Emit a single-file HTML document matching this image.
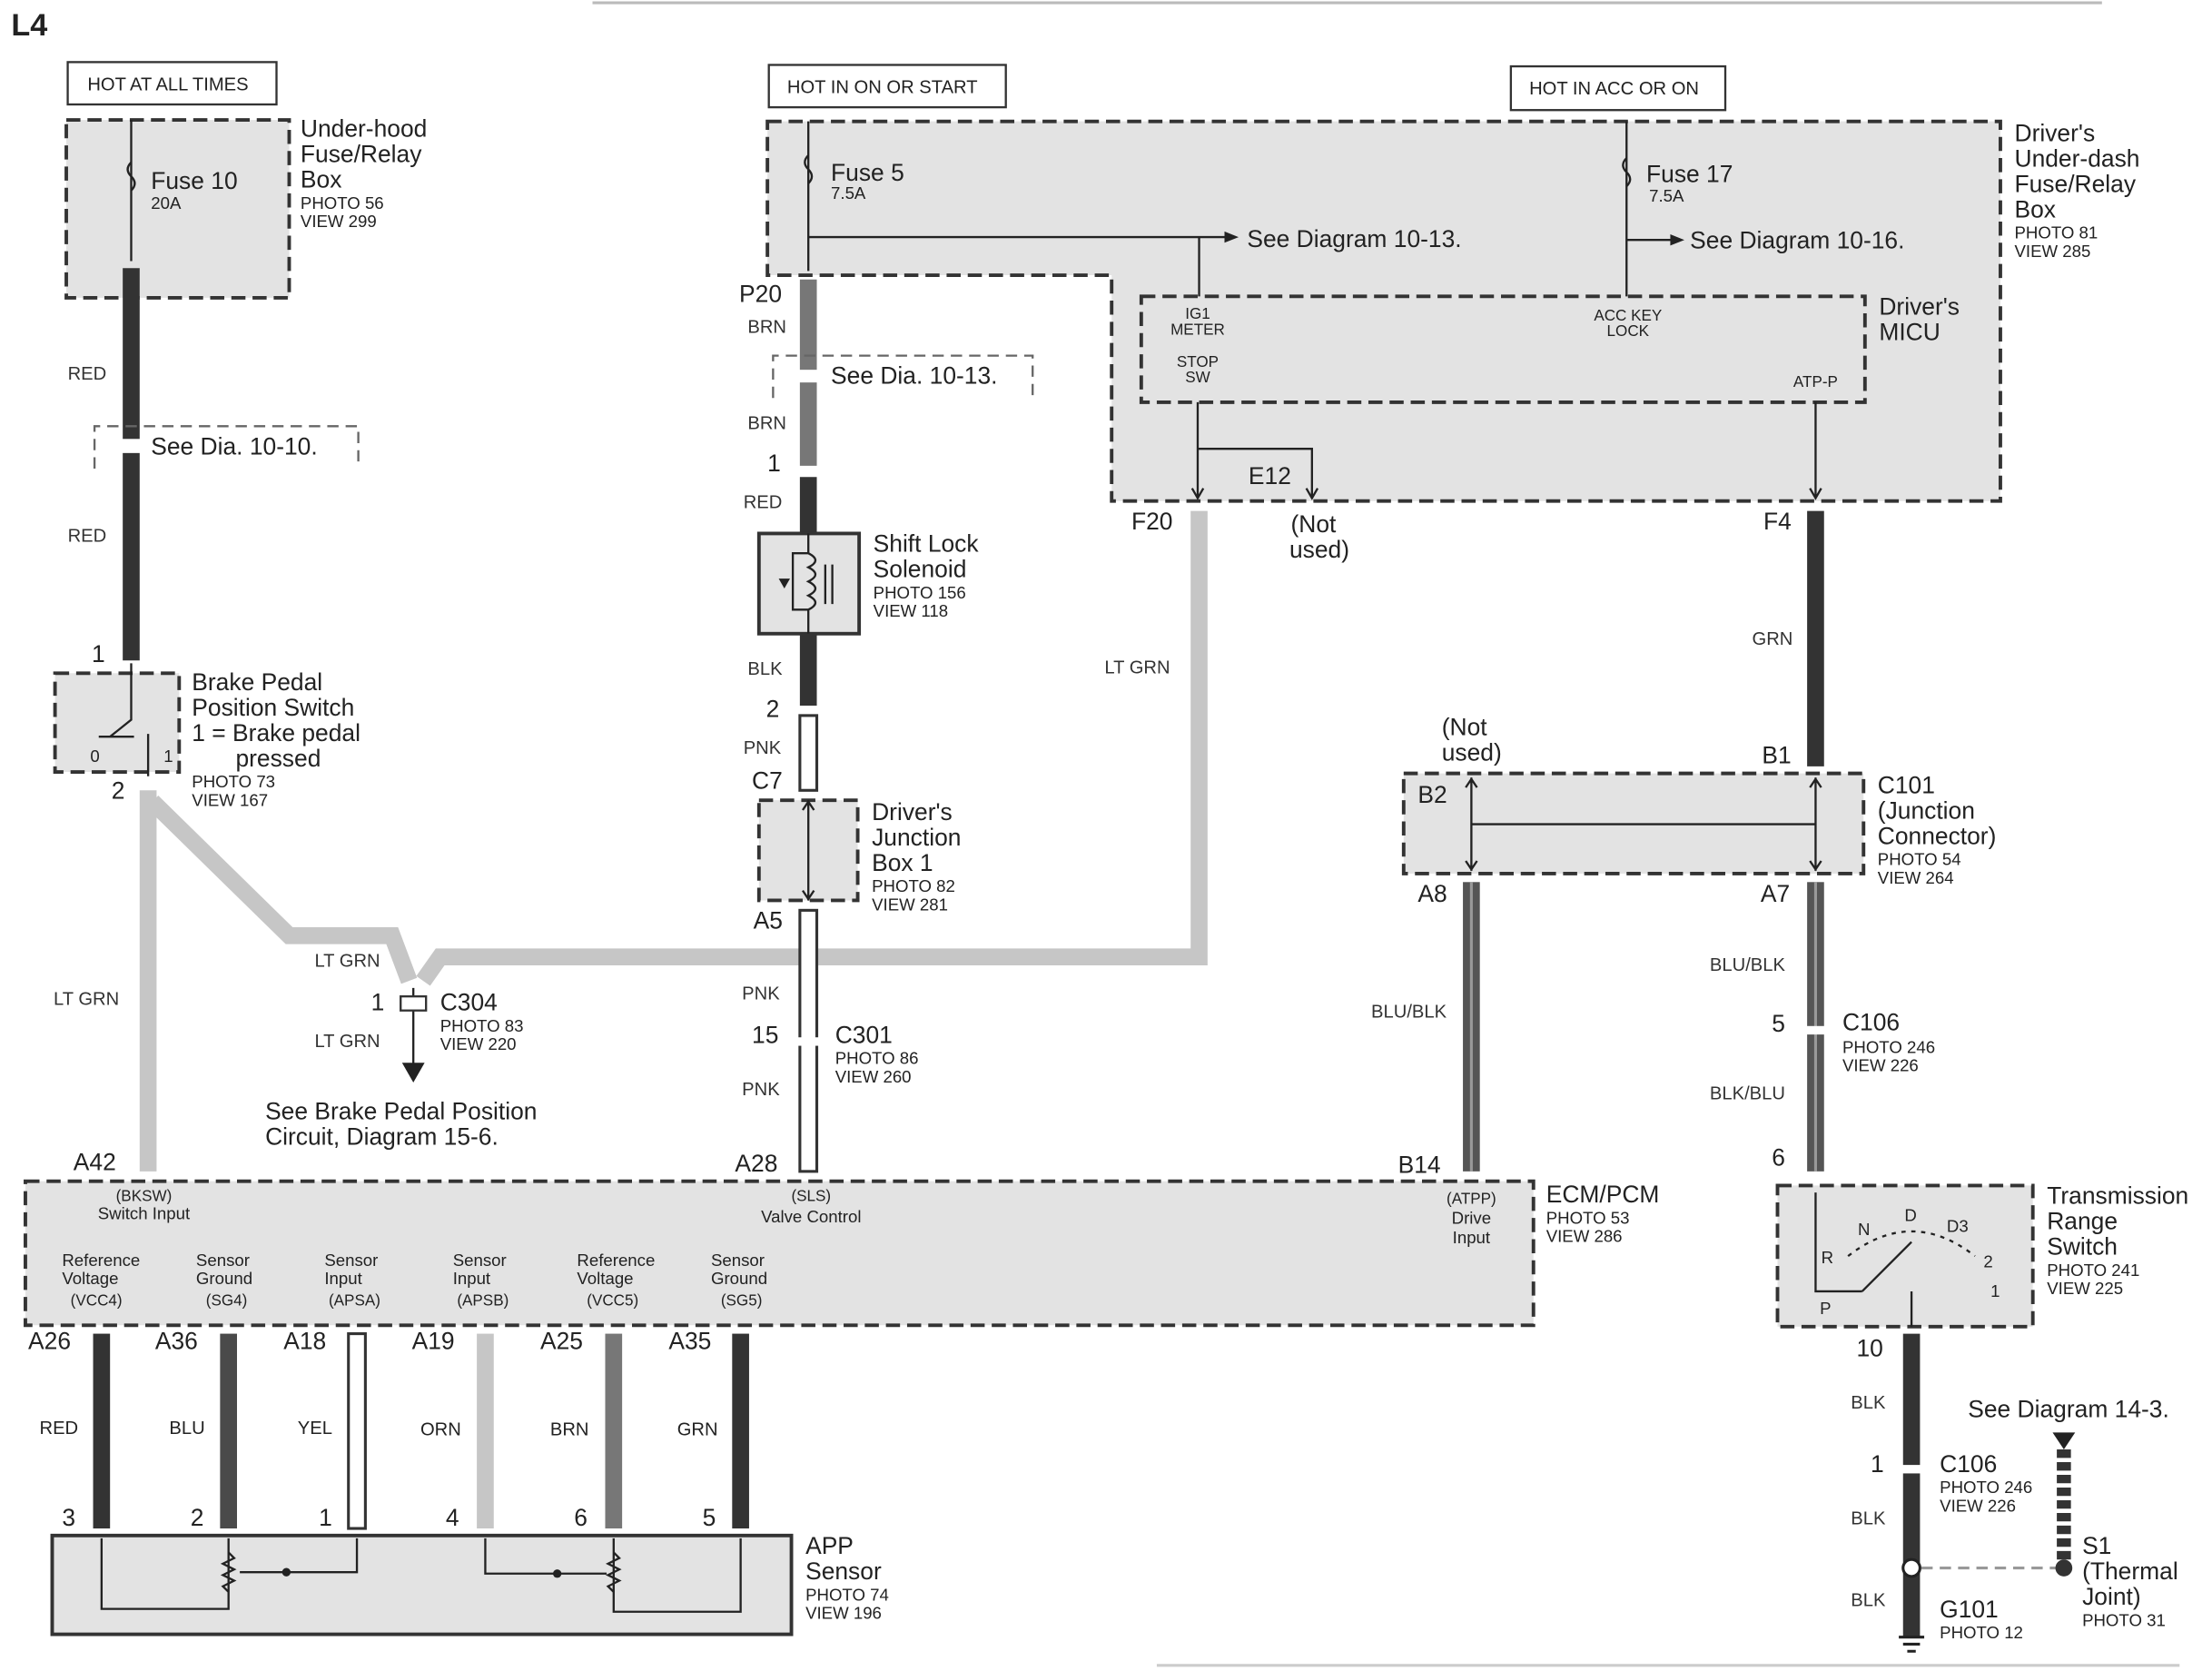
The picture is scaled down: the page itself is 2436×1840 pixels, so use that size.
<!DOCTYPE html>
<html><head><meta charset="utf-8">
<style>
html,body{margin:0;padding:0;background:#fff;}
svg{display:block;}
text{font-family:"Liberation Sans",sans-serif;fill:#222;}
.b{font-size:17px;}
.s{font-size:12px;}
.w{font-size:13px;fill:#333;}
.t{font-size:11px;}
.box{fill:#e3e3e3;stroke:#333;stroke-width:2.5;stroke-dasharray:10 5;}
.thin{stroke:#222;stroke-width:1.5;fill:none;}
</style></head>
<body>
<svg width="2436" height="1840" viewBox="0 0 1568 1184" preserveAspectRatio="none" xmlns="http://www.w3.org/2000/svg">
<rect width="1568" height="1184" fill="#fff"/>
<line x1="420" y1="2" x2="1490" y2="2" stroke="#bbb" stroke-width="2"/>
<line x1="820" y1="1180" x2="1545" y2="1180" stroke="#ccc" stroke-width="2"/>
<text x="8" y="25" style="font-size:22px;font-weight:bold">L4</text>

<!-- top left -->
<rect x="48" y="44" width="148" height="30" fill="#fff" stroke="#333" stroke-width="1.5"/>
<text x="62" y="64" class="s" style="font-size:13px">HOT AT ALL TIMES</text>
<rect x="47" y="85" width="158" height="126" class="box"/>
<line x1="93" y1="85" x2="93" y2="185" class="thin"/>
<path d="M93 115 q-5 5 0 10 q5 5 0 10" class="thin"/>
<text x="107" y="134" class="b">Fuse 10</text><text x="107" y="148" class="s">20A</text>
<text x="213" y="97" class="b">Under-hood</text><text x="213" y="115" class="b">Fuse/Relay</text><text x="213" y="133" class="b">Box</text>
<text x="213" y="148" class="s">PHOTO 56</text><text x="213" y="161" class="s">VIEW 299</text>
<line x1="93" y1="190" x2="93" y2="468" stroke="#333" stroke-width="12"/>
<text x="48" y="269" class="w">RED</text><text x="48" y="384" class="w">RED</text>
<path d="M67 332 v-30 h187 v30" fill="none" stroke="#666" stroke-width="1.5" stroke-dasharray="8 5"/>
<rect x="85" y="311" width="16" height="10" fill="#fff"/>
<text x="107" y="322" class="b">See Dia. 10-10.</text>

<!-- brake switch -->
<rect x="39" y="477" width="88" height="70" class="box"/>
<text x="65" y="469" class="b">1</text><text x="79" y="566" class="b">2</text>
<path d="M93 470 v40 l-15 12 M70 522 h25 M105 520 v30" class="thin"/>
<text x="64" y="540" class="s">0</text><text x="116" y="540" class="s">1</text>
<text x="136" y="489" class="b">Brake Pedal</text><text x="136" y="507" class="b">Position Switch</text>
<text x="136" y="525" class="b">1 = Brake pedal</text><text x="167" y="543" class="b">pressed</text>
<text x="136" y="558" class="s">PHOTO 73</text><text x="136" y="571" class="s">VIEW 167</text>

<!-- LT GRN paths -->
<g stroke="#c6c6c6" stroke-width="12" fill="none">
<line x1="105" y1="560" x2="105" y2="830"/>
<path d="M108 568 L205 663 H278 L290 695"/>
<path d="M300 695 L312 678 H850 V362"/>
</g>
<text x="38" y="712" class="w">LT GRN</text>
<text x="223" y="685" class="w">LT GRN</text><text x="223" y="742" class="w">LT GRN</text>
<text x="783" y="477" class="w">LT GRN</text>
<line x1="293" y1="700" x2="293" y2="755" class="thin"/>
<rect x="284" y="706" width="18" height="10" fill="#fff" stroke="#333" stroke-width="1.5"/>
<polygon points="285,753 301,753 293,767" fill="#222"/>
<text x="263" y="716" class="b">1</text>
<text x="312" y="716" class="b">C304</text><text x="312" y="731" class="s">PHOTO 83</text><text x="312" y="744" class="s">VIEW 220</text>
<text x="188" y="793" class="b">See Brake Pedal Position</text><text x="188" y="811" class="b">Circuit, Diagram  15-6.</text>

<!-- top middle -->
<rect x="545" y="46" width="168" height="30" fill="#fff" stroke="#333" stroke-width="1.5"/>
<text x="558" y="66" style="font-size:13px">HOT IN ON OR START</text>
<rect x="1071" y="47" width="152" height="31" fill="#fff" stroke="#333" stroke-width="1.5"/>
<text x="1084" y="67" style="font-size:13px">HOT IN ACC OR ON</text>
<path d="M544 86 H1418 V355 H788 V195 H544 Z" class="box"/>
<rect x="809" y="210" width="513" height="75" class="box"/>
<line x1="573" y1="86" x2="573" y2="192" class="thin"/>
<path d="M573 110 q-5 5 0 10 q5 5 0 10" class="thin"/>
<text x="589" y="128" class="b">Fuse 5</text><text x="589" y="141" class="s">7.5A</text>
<line x1="573" y1="168" x2="870" y2="168" class="thin"/><polygon points="868,164 878,168 868,172" fill="#222"/>
<text x="884" y="175" class="b">See Diagram 10-13.</text>
<line x1="850" y1="168" x2="850" y2="210" class="thin"/>
<line x1="1153" y1="86" x2="1153" y2="210" class="thin"/>
<path d="M1153 112 q-5 5 0 10 q5 5 0 10" class="thin"/>
<text x="1167" y="129" class="b">Fuse 17</text><text x="1169" y="143" class="s">7.5A</text>
<line x1="1153" y1="170" x2="1186" y2="170" class="thin"/><polygon points="1184,166 1194,170 1184,174" fill="#222"/>
<text x="1198" y="176" class="b">See Diagram 10-16.</text>
<text x="849" y="226" class="t" text-anchor="middle">IG1</text><text x="849" y="237" class="t" text-anchor="middle">METER</text>
<text x="849" y="260" class="t" text-anchor="middle">STOP</text><text x="849" y="271" class="t" text-anchor="middle">SW</text>
<text x="1154" y="227" class="t" text-anchor="middle">ACC KEY</text><text x="1154" y="238" class="t" text-anchor="middle">LOCK</text>
<text x="1287" y="274" class="t" text-anchor="middle">ATP-P</text>
<path d="M849 285 V352 M849 318 H930 V352 M1287 285 V352" class="thin"/>
<path d="M845 346 l4 7 l4 -7 M926 346 l4 7 l4 -7 M1283 346 l4 7 l4 -7" class="thin"/>
<text x="885" y="343" class="b">E12</text>
<text x="802" y="375" class="b">F20</text>
<text x="915" y="377" class="b">(Not</text><text x="914" y="395" class="b">used)</text>
<text x="1250" y="375" class="b">F4</text>
<text x="1332" y="223" class="b">Driver's</text><text x="1332" y="241" class="b">MICU</text>
<text x="1428" y="100" class="b">Driver's</text><text x="1428" y="118" class="b">Under-dash</text><text x="1428" y="136" class="b">Fuse/Relay</text><text x="1428" y="154" class="b">Box</text>
<text x="1428" y="169" class="s">PHOTO 81</text><text x="1428" y="182" class="s">VIEW 285</text>

<!-- middle wire -->
<text x="524" y="214" class="b">P20</text>
<line x1="573" y1="198" x2="573" y2="330" stroke="#777" stroke-width="12"/>
<text x="530" y="236" class="w">BRN</text><text x="530" y="304" class="w">BRN</text>
<path d="M548 282 v-30 h184 v30" fill="none" stroke="#666" stroke-width="1.5" stroke-dasharray="8 5"/>
<rect x="565" y="262" width="16" height="9" fill="#fff"/>
<text x="589" y="272" class="b">See  Dia. 10-13.</text>
<text x="544" y="334" class="b">1</text>
<line x1="573" y1="338" x2="573" y2="378" stroke="#333" stroke-width="12"/>
<text x="527" y="360" class="w">RED</text>
<rect x="538" y="378" width="71" height="71" fill="#e3e3e3" stroke="#333" stroke-width="2.5"/>
<path d="M573 378 V392 H562 V432 H573 V449 M573 392 q10 5 0 10 q10 5 0 10 q10 5 0 10 q10 5 0 10 M585 400 V428 M590 400 V428" class="thin"/>
<polygon points="552,410 560,410 556,417" fill="#222"/>
<text x="619" y="391" class="b">Shift Lock</text><text x="619" y="409" class="b">Solenoid</text>
<text x="619" y="424" class="s">PHOTO 156</text><text x="619" y="437" class="s">VIEW 118</text>
<line x1="573" y1="449" x2="573" y2="500" stroke="#333" stroke-width="12"/>
<text x="530" y="478" class="w">BLK</text>
<text x="543" y="508" class="b">2</text>
<rect x="567" y="507" width="12" height="53" fill="#fff" stroke="#333" stroke-width="2"/>
<text x="527" y="534" class="w">PNK</text>
<text x="533" y="559" class="b">C7</text>
<rect x="538" y="567" width="70" height="71" class="box"/>
<path d="M573 567 V638 M569 574 l4 -6 l4 6 M569 631 l4 6 l4 -6" class="thin"/>
<text x="618" y="581" class="b">Driver's</text><text x="618" y="599" class="b">Junction</text><text x="618" y="617" class="b">Box 1</text>
<text x="618" y="632" class="s">PHOTO 82</text><text x="618" y="645" class="s">VIEW 281</text>
<text x="534" y="658" class="b">A5</text>
<rect x="567" y="645" width="12" height="185" fill="#fff" stroke="#333" stroke-width="2"/>
<rect x="564" y="735" width="18" height="6" fill="#fff"/>
<text x="526" y="708" class="w">PNK</text><text x="533" y="739" class="b">15</text>
<text x="592" y="739" class="b">C301</text><text x="592" y="754" class="s">PHOTO 86</text><text x="592" y="767" class="s">VIEW 260</text>
<text x="526" y="776" class="w">PNK</text>
<text x="521" y="830" class="b">A28</text><text x="52" y="829" class="b">A42</text>

<!-- right side -->
<line x1="1287" y1="362" x2="1287" y2="543" stroke="#333" stroke-width="12"/>
<text x="1242" y="457" class="w">GRN</text>
<text x="1249" y="541" class="b">B1</text>
<text x="1022" y="521" class="b">(Not</text><text x="1022" y="539" class="b">used)</text>
<rect x="995" y="548" width="326" height="71" class="box"/>
<text x="1005" y="569" class="b">B2</text>
<path d="M1043 551 V617 M1043 584 H1287 M1287 551 V617 M1039 558 l4 -6 l4 6 M1039 610 l4 6 l4 -6 M1283 558 l4 -6 l4 6 M1283 610 l4 6 l4 -6" class="thin"/>
<text x="1331" y="562" class="b">C101</text><text x="1331" y="580" class="b">(Junction</text><text x="1331" y="598" class="b">Connector)</text>
<text x="1331" y="613" class="s">PHOTO 54</text><text x="1331" y="626" class="s">VIEW 264</text>
<text x="1005" y="639" class="b">A8</text><text x="1248" y="639" class="b">A7</text>
<g>
<rect x="1037" y="625" width="12" height="205" fill="#555"/>
<line x1="1043" y1="625" x2="1043" y2="830" stroke="#999" stroke-width="2"/>
<rect x="1281" y="625" width="12" height="205" fill="#555"/>
<line x1="1287" y1="625" x2="1287" y2="830" stroke="#999" stroke-width="2"/>
</g>
<rect x="1278" y="727" width="18" height="6" fill="#fff"/>
<text x="972" y="721" class="w">BLU/BLK</text>
<text x="1212" y="688" class="w">BLU/BLK</text><text x="1256" y="731" class="b">5</text>
<text x="1306" y="730" class="b">C106</text><text x="1306" y="746" class="s">PHOTO 246</text><text x="1306" y="759" class="s">VIEW 226</text>
<text x="1212" y="779" class="w">BLK/BLU</text><text x="1256" y="826" class="b">6</text>
<text x="991" y="831" class="b">B14</text>
<text x="1096" y="852" class="b">ECM/PCM</text><text x="1096" y="867" class="s">PHOTO 53</text><text x="1096" y="880" class="s">VIEW 286</text>

<rect x="1260" y="840" width="181" height="100" class="box"/>
<path d="M1287 845 V915 H1320 M1355 915 V940 M1320 915 L1355 880" class="thin"/>
<path d="M1310 890 Q1355 855 1400 890" fill="none" stroke="#222" stroke-width="1.5" stroke-dasharray="3 4"/>
<text x="1291" y="895" class="s">R</text><text x="1317" y="875" class="s">N</text><text x="1350" y="865" class="s">D</text>
<text x="1380" y="873" class="s">D3</text><text x="1406" y="898" class="s">2</text><text x="1411" y="919" class="s">1</text><text x="1290" y="931" class="s">P</text>
<text x="1451" y="853" class="b">Transmission</text><text x="1451" y="871" class="b">Range</text><text x="1451" y="889" class="b">Switch</text>
<text x="1451" y="904" class="s">PHOTO 241</text><text x="1451" y="917" class="s">VIEW 225</text>
<text x="1316" y="961" class="b">10</text>
<line x1="1355" y1="945" x2="1355" y2="1160" stroke="#333" stroke-width="12"/>
<rect x="1346" y="1038" width="18" height="6" fill="#fff"/>
<text x="1312" y="998" class="w">BLK</text><text x="1326" y="1043" class="b">1</text>
<text x="1375" y="1043" class="b">C106</text><text x="1375" y="1058" class="s">PHOTO 246</text><text x="1375" y="1071" class="s">VIEW 226</text>
<text x="1312" y="1080" class="w">BLK</text><text x="1312" y="1138" class="w">BLK</text>
<circle cx="1355" cy="1111" r="6" fill="#fff" stroke="#222" stroke-width="2"/>
<path d="M1346 1160 h18 M1349 1165 h12 M1352 1170 h6" stroke="#222" stroke-width="2"/>
<text x="1375" y="1146" class="b">G101</text><text x="1375" y="1161" class="s">PHOTO 12</text>
<line x1="1362" y1="1111" x2="1458" y2="1111" stroke="#999" stroke-width="2" stroke-dasharray="8 5"/>
<text x="1395" y="1004" class="b">See Diagram 14-3.</text>
<polygon points="1455,1015 1471,1015 1463,1027" fill="#222"/>
<line x1="1463" y1="1027" x2="1463" y2="1105" stroke="#333" stroke-width="10" stroke-dasharray="6 3"/>
<circle cx="1463" cy="1111" r="6" fill="#333"/>
<text x="1476" y="1101" class="b">S1</text><text x="1476" y="1119" class="b">(Thermal</text><text x="1476" y="1137" class="b">Joint)</text><text x="1476" y="1152" class="s">PHOTO 31</text>

<!-- ECM -->
<rect x="18" y="837" width="1069" height="102" class="box"/>
<text x="102" y="851" class="t" text-anchor="middle">(BKSW)</text><text x="102" y="864" class="s" text-anchor="middle">Switch Input</text>
<text x="575" y="851" class="t" text-anchor="middle">(SLS)</text><text x="575" y="866" class="s" text-anchor="middle">Valve Control</text>
<text x="1043" y="853" class="t" text-anchor="middle">(ATPP)</text><text x="1043" y="867" class="s" text-anchor="middle">Drive</text><text x="1043" y="881" class="s" text-anchor="middle">Input</text>
<g class="s">
<text x="44" y="897">Reference</text><text x="44" y="910">Voltage</text><text x="50" y="925" class="t">(VCC4)</text>
<text x="139" y="897">Sensor</text><text x="139" y="910">Ground</text><text x="146" y="925" class="t">(SG4)</text>
<text x="230" y="897">Sensor</text><text x="230" y="910">Input</text><text x="233" y="925" class="t">(APSA)</text>
<text x="321" y="897">Sensor</text><text x="321" y="910">Input</text><text x="324" y="925" class="t">(APSB)</text>
<text x="409" y="897">Reference</text><text x="409" y="910">Voltage</text><text x="416" y="925" class="t">(VCC5)</text>
<text x="504" y="897">Sensor</text><text x="504" y="910">Ground</text><text x="511" y="925" class="t">(SG5)</text>
</g>
<g>
<rect x="66" y="945" width="12" height="138" fill="#333"/>
<rect x="156" y="945" width="12" height="138" fill="#4a4a4a"/>
<rect x="247" y="945" width="12" height="138" fill="#fff" stroke="#333" stroke-width="2"/>
<rect x="338" y="945" width="12" height="138" fill="#c6c6c6"/>
<rect x="429" y="945" width="12" height="138" fill="#777"/>
<rect x="519" y="945" width="12" height="138" fill="#333"/>
</g>
<g class="b">
<text x="20" y="956">A26</text><text x="110" y="956">A36</text><text x="201" y="956">A18</text><text x="292" y="956">A19</text><text x="383" y="956">A25</text><text x="474" y="956">A35</text>
<text x="44" y="1081">3</text><text x="135" y="1081">2</text><text x="226" y="1081">1</text><text x="316" y="1081">4</text><text x="407" y="1081">6</text><text x="498" y="1081">5</text>
</g>
<g class="w">
<text x="28" y="1016">RED</text><text x="120" y="1016">BLU</text><text x="211" y="1016">YEL</text><text x="298" y="1017">ORN</text><text x="390" y="1017">BRN</text><text x="480" y="1017">GRN</text>
</g>
<rect x="37" y="1088" width="524" height="70" fill="#e3e3e3" stroke="#333" stroke-width="2.5"/>
<path d="M72 1090 V1140 H162 V1090 M253 1090 V1114 H170 M344 1090 V1115 H430 M435 1090 V1142 H525 V1090" class="thin"/>
<path d="M162 1100 l4 4 l-8 4 l8 4 l-8 4 l8 4 l-8 4 l4 4 M435 1100 l4 4 l-8 4 l8 4 l-8 4 l8 4 l-8 4 l4 4" class="thin"/>
<circle cx="203" cy="1114" r="3" fill="#222"/><circle cx="395" cy="1115" r="3" fill="#222"/>
<text x="571" y="1101" class="b">APP</text><text x="571" y="1119" class="b">Sensor</text>
<text x="571" y="1134" class="s">PHOTO 74</text><text x="571" y="1147" class="s">VIEW 196</text>
</svg>
</body></html>
